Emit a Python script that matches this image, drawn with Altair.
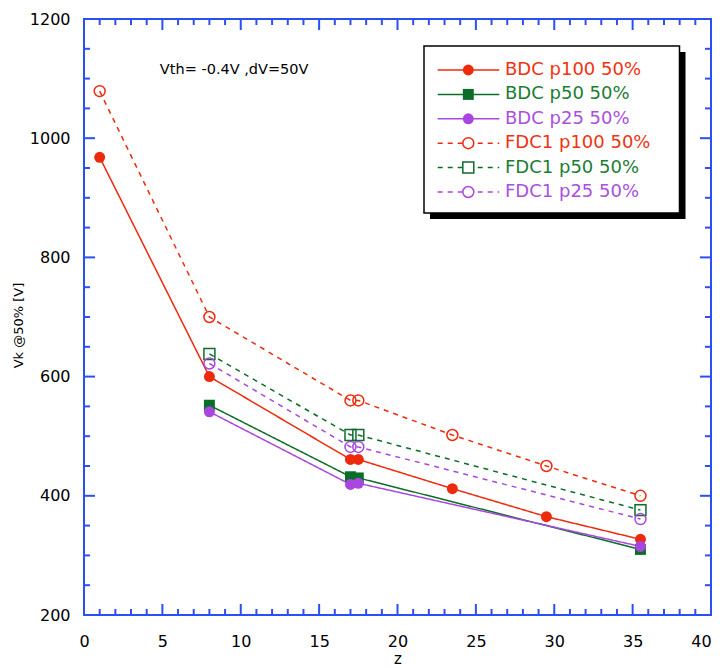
import altair as alt
import pandas as pd

# ---------------- data ----------------
series_names = ["BDC p100 50%", "BDC p50 50%", "BDC p25 50%",
                "FDC1 p100 50%", "FDC1 p50 50%", "FDC1 p25 50%"]

z_bdc_p100 = [1, 8, 17, 17.5, 23.5, 29.5, 35.5]
v_bdc_p100 = [968, 600, 461, 461, 412, 365, 327]
z_bdc_p50 = [8, 17, 17.5, 35.5]
v_bdc_p50 = [552, 432, 430, 310]
z_bdc_p25 = [8, 17, 17.5, 35.5]
v_bdc_p25 = [541, 419, 421, 315]
z_fdc_p100 = [1, 8, 17, 17.5, 23.5, 29.5, 35.5]
v_fdc_p100 = [1079, 700, 560, 560, 502, 450, 400]
z_fdc_p50 = [8, 17, 17.5, 35.5]
v_fdc_p50 = [638, 502, 502, 376]
z_fdc_p25 = [8, 17, 17.5, 35.5]
v_fdc_p25 = [622, 482, 482, 361]

x_tick_values = list(range(0, 41, 1))
x_label_values = list(range(0, 41, 5))
y_tick_values = list(range(200, 1201, 50))
y_label_values = list(range(200, 1201, 200))

annotation_text = "Vth= -0.4V ,dV=50V"

# ---------------- styles ----------------
colors = ["#ee2a0c", "#0b6e28", "#a847e0", "#ee2a0c", "#0b6e28", "#a847e0"]
text_colors = ["#ee3311", "#1a7d33", "#aa4fe0", "#ee3311", "#1a7d33", "#aa4fe0"]
shapes = ["circle", "square", "circle", "circle", "square", "circle"]
dashes = [[1, 0], [1, 0], [1, 0], [5, 5], [5, 5], [5, 5]]
BLUE = "#2a4ff5"
FONT = "DejaVu Sans"
W, H = 627, 596

zs = [z_bdc_p100, z_bdc_p50, z_bdc_p25, z_fdc_p100, z_fdc_p50, z_fdc_p25]
vs = [v_bdc_p100, v_bdc_p50, v_bdc_p25, v_fdc_p100, v_fdc_p50, v_fdc_p25]
rows = []
for name, zz, vv in zip(series_names, zs, vs):
    kind = "BDC" if name.startswith("BDC") else "FDC"
    for a, b in zip(zz, vv):
        rows.append({"series": name, "kind": kind, "z": a, "v": b})
df = pd.DataFrame(rows)

x_scale = alt.Scale(domain=[0, 40], nice=False, zero=False)
y_scale = alt.Scale(domain=[200, 1200], nice=False, zero=False)

x_enc = alt.X("z:Q", scale=x_scale,
              axis=alt.Axis(values=x_label_values, title="z", labelPadding=18, format="d",
                            labelFlush=False,
                            labelOffset={"condition": {"test": "datum.value == 40", "value": -10}, "value": 0},
                            titleFontSize=15, titleFont=FONT, titleFontWeight="normal",
                            titleX=W / 2, titleY=48, titleBaseline="alphabetic"))
y_enc = alt.Y("v:Q", scale=y_scale,
              axis=alt.Axis(values=y_label_values, title="Vk @50% [V]", labelPadding=14, format="d",
                            labelFlush=False,
                            titleFontSize=13, titleFont=FONT, titleFontWeight="normal",
                            titleX=-66, titleY=H / 2 + 8, titleAngle=270,
                            titleAlign="center", titleBaseline="middle"))

color_enc = alt.Color("series:N", scale=alt.Scale(domain=series_names, range=colors), legend=None)
shape_enc = alt.Shape("series:N", scale=alt.Scale(domain=series_names, range=shapes), legend=None)
dash_enc = alt.StrokeDash("series:N", scale=alt.Scale(domain=series_names, range=dashes), legend=None)

base = alt.Chart(df)
lines = base.mark_line(strokeWidth=1.5).encode(x=x_enc, y=y_enc, color=color_enc,
                                               strokeDash=dash_enc, order="z:Q")
pts_filled = base.transform_filter(alt.datum.kind == "BDC").mark_point(
    filled=True, size=120, opacity=1).encode(x=x_enc, y=y_enc, color=color_enc, shape=shape_enc)
pts_open = base.transform_filter(alt.datum.kind == "FDC").mark_point(
    filled=False, size=120, opacity=1, strokeWidth=1.5).encode(x=x_enc, y=y_enc, color=color_enc, shape=shape_enc)

# inward ticks on all four sides (centered on edge, clipped half)
xt = pd.DataFrame({"z": x_tick_values})
yt = pd.DataFrame({"v": y_tick_values})
xt_chart = alt.Chart(xt).transform_calculate(len="datum.z % 5 == 0 ? 22 : 12")
yt_chart = alt.Chart(yt).transform_calculate(len="datum.v % 200 == 0 ? 22 : 12")
tick_layers = []
for ydat in (200, 1200):
    tick_layers.append(xt_chart.mark_tick(orient="vertical", clip=True, thickness=2, color=BLUE, opacity=1).encode(
        x=x_enc, y=alt.datum(ydat), size=alt.Size("len:Q", scale=None)))
for xdat in (0, 40):
    tick_layers.append(yt_chart.mark_tick(orient="horizontal", clip=True, thickness=2, color=BLUE, opacity=1).encode(
        y=y_enc, x=alt.datum(xdat), size=alt.Size("len:Q", scale=None)))

annot = alt.Chart(pd.DataFrame({"a": [0]})).mark_text(
    align="left", baseline="middle", fontSize=14.5, font=FONT, color="black").encode(
    x=alt.datum(4.84), y=alt.datum(1114), text=alt.value(annotation_text))

# manual legend
one = pd.DataFrame({"a": [0]})
lx0, lx1, ly0, ly1 = 340, 595.5, 27, 194
legend_layers = [
    alt.Chart(one).mark_rect(color="black").encode(
        x=alt.value(lx0 + 6), x2=alt.value(lx1 + 6), y=alt.value(ly0 + 6), y2=alt.value(ly1 + 6)),
    alt.Chart(one).mark_rect(fill="white", stroke="black", strokeWidth=1.5).encode(
        x=alt.value(lx0), x2=alt.value(lx1), y=alt.value(ly0), y2=alt.value(ly1)),
]
for i, name in enumerate(series_names):
    yy = 51 + 24.4 * i
    legend_layers.append(alt.Chart(one).mark_rule(color=colors[i], strokeWidth=1.5, strokeDash=dashes[i]).encode(
        x=alt.value(353.7), x2=alt.value(415.3), y=alt.value(yy)))
    legend_layers.append(alt.Chart(one).mark_point(
        shape=shapes[i], filled=(i < 3), size=120, opacity=1, strokeWidth=1.5,
        color=colors[i], fill=(colors[i] if i < 3 else "white")).encode(
        x=alt.value(384.3), y=alt.value(yy)))
    legend_layers.append(alt.Chart(one).mark_text(
        align="left", baseline="middle", fontSize=18, font=FONT, color=text_colors[i]).encode(
        x=alt.value(421), y=alt.value(yy), text=alt.value(name)))

chart = alt.layer(lines, pts_filled, pts_open, *tick_layers, annot, *legend_layers).properties(
    width=W, height=H,
    autosize=alt.AutoSizeParams(type="none"),
    padding={"left": 76, "top": 11, "right": 1, "bottom": 52},
    background="white",
).configure_view(stroke=BLUE, strokeWidth=2).configure_axis(
    domain=False, ticks=False, grid=False, labelFont=FONT, labelFontSize=16,
    labelColor="black", titleColor="black")

chart.save("out.html", embed_options={"renderer": "svg", "actions": False})
